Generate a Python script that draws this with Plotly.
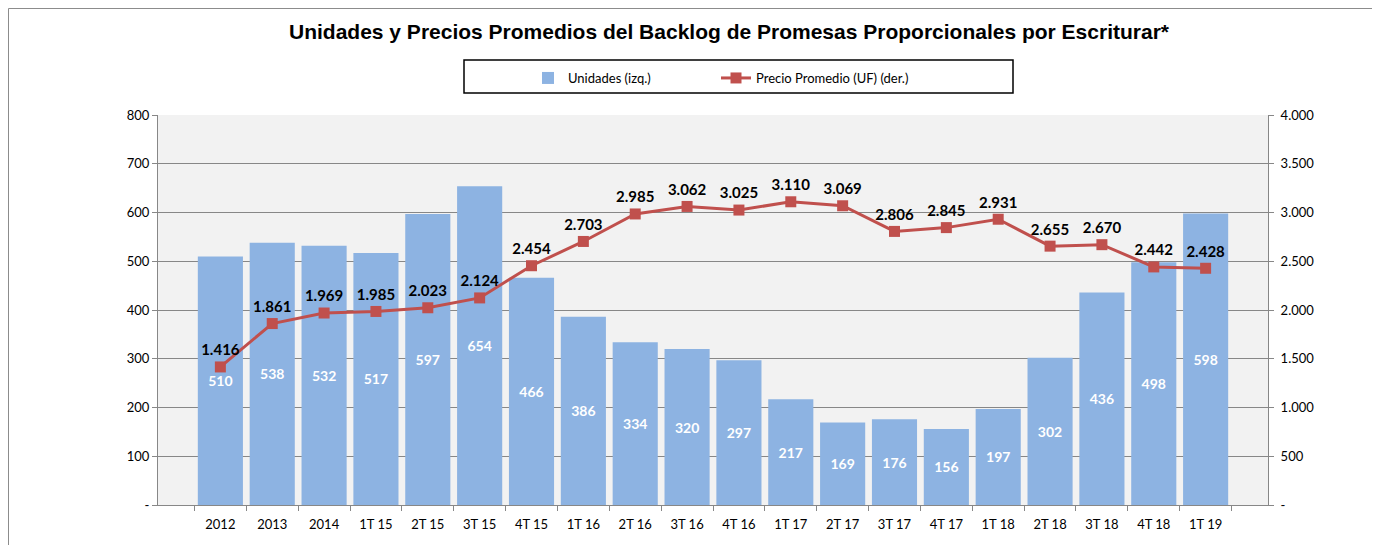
import plotly.graph_objects as go

categories = ["2012", "2013", "2014", "1T 15", "2T 15", "3T 15", "4T 15", "1T 16", "2T 16", "3T 16",
              "4T 16", "1T 17", "2T 17", "3T 17", "4T 17", "1T 18", "2T 18", "3T 18", "4T 18", "1T 19"]
unidades = [510, 538, 532, 517, 597, 654, 466, 386, 334, 320, 297, 217, 169, 176, 156, 197, 302, 436, 498, 598]
precios = [1416, 1861, 1969, 1985, 2023, 2124, 2454, 2703, 2985, 3062, 3025, 3110, 3069, 2806, 2845, 2931,
           2655, 2670, 2442, 2428]

left_ticks = [0, 100, 200, 300, 400, 500, 600, 700, 800]
left_labels = ["-", "100", "200", "300", "400", "500", "600", "700", "800"]
right_ticks = [0, 500, 1000, 1500, 2000, 2500, 3000, 3500, 4000]
right_labels = ["-", "500", "1.000", "1.500", "2.000", "2.500", "3.000", "3.500", "4.000"]

FONT = "Lato"
BAR = "#8DB3E2"
LINE = "#C0504D"
AX = "#878787"

OFF = 8  # page body margin
W, H = 1380 - OFF, 545 - OFF
L, T = 158 - OFF, 115 - OFF
R = W - (1268 - OFF)
B = H - (505 - OFF)
pw, ph = W - L - R, H - T - B

def px_x(x):
    return (x - OFF - L) / pw

def px_y(y):
    return (H - B - (y - OFF)) / ph

fig = go.Figure()
fig.add_trace(go.Bar(
    x=categories, y=unidades, name="Unidades (izq.)",
    marker=dict(color=BAR, line=dict(width=0)),
    text=unidades, texttemplate="%{text}", textposition="inside", insidetextanchor="middle",
    textangle=0, textfont=dict(color="white", size=14, family=FONT, weight="bold"),
    yaxis="y", legend="legend",
))
fig.add_trace(go.Scatter(
    x=categories, y=precios, name="Precio Promedio (UF) (der.)",
    mode="lines+markers+text",
    line=dict(color=LINE, width=3),
    marker=dict(symbol="square", size=11, color=LINE),
    text=precios, texttemplate="%{y:,}", textposition="top center",
    textfont=dict(color="black", size=15, family=FONT, weight="bold"),
    yaxis="y2", legend="legend2",
))

border = dict(color="#8C8C8C", width=1)
leg_common = dict(orientation="h", xanchor="left", y=px_y(63), yanchor="top",
                  bgcolor="rgba(0,0,0,0)", borderwidth=0, font=dict(family=FONT, size=13))
fig.update_layout(
    width=W, height=H,
    margin=dict(l=L, r=R, t=T, b=B, autoexpand=False),
    paper_bgcolor="white", plot_bgcolor="#F2F2F2",
    separators=",.",
    bargap=0.13,
    font=dict(family=FONT, size=13, color="black"),
    title=dict(text="<b>Unidades y Precios Promedios del Backlog de Promesas Proporcionales por Escriturar*</b>",
               font=dict(family="Liberation Sans", size=21, color="black"),
               xref="container", x=(729 - OFF) / W, xanchor="center", yref="container",
               y=1 - (32 - OFF) / H, yanchor="middle"),
    showlegend=True,
    legend=dict(x=px_x(528), **leg_common),
    legend2=dict(x=px_x(716), **leg_common),
    xaxis=dict(type="category", showline=True, linecolor=AX, linewidth=1, ticks="outside",
               tickson="boundaries", ticklen=5, tickcolor=AX, showgrid=False, ticklabelstandoff=7,
               tickfont=dict(family=FONT, size=13), mirror=False),
    yaxis=dict(range=[0, 800], tickvals=left_ticks, ticktext=left_labels, showline=True, linecolor=AX,
               ticks="outside", ticklen=5, tickcolor=AX, showgrid=True, gridcolor=AX, gridwidth=1,
               zeroline=False, tickfont=dict(family=FONT, size=13)),
    yaxis2=dict(range=[0, 4000], tickvals=right_ticks, ticktext=right_labels, overlaying="y", side="right",
                showline=True, linecolor=AX, ticks="outside", ticklen=5, tickcolor=AX, showgrid=False,
                zeroline=False, ticklabelstandoff=4, tickfont=dict(family=FONT, size=13)),
    shapes=[
        dict(type="line", xref="paper", yref="paper", x0=px_x(8.5), x1=px_x(8.5), y0=px_y(545), y1=px_y(8.5),
             line=border),
        dict(type="line", xref="paper", yref="paper", x0=px_x(1373), x1=px_x(1373), y0=px_y(545), y1=px_y(8.5),
             line=border),
        dict(type="line", xref="paper", yref="paper", x0=px_x(8.5), x1=px_x(1373), y0=px_y(8.5), y1=px_y(8.5),
             line=border),
        dict(type="rect", xref="paper", yref="paper", x0=px_x(464), x1=px_x(1013), y0=px_y(93), y1=px_y(60),
             line=dict(color="black", width=1.5), fillcolor="rgba(0,0,0,0)"),
    ],
)

fig.write_html("out.html")
